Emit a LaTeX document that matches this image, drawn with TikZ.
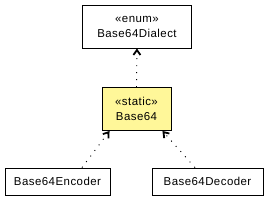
\documentclass[tikz,border=0pt]{standalone}
\usepackage{fontspec}
\setmainfont{Liberation Sans}[LetterSpace=4]
\usetikzlibrary{arrows.meta,calc}
\tikzset{
  cls/.style={draw=black, line width=0.9pt, fill=white, inner sep=0pt, align=center, font=\fontsize{11.5}{15}\selectfont},
  dep/.style={line width=0.9pt, dash pattern=on 1pt off 6pt, -{Straight Barb[length=5pt,width=7pt,line width=1.8pt]}}
}
\begin{document}
\begin{tikzpicture}[x=1bp,y=-1bp]
\useasboundingbox (0,0) rectangle (273,200);
\node[cls, minimum width=109bp, minimum height=43bp] (dia) at (137,26.5) {«enum»\\Base64Dialect};
\node[cls, fill={rgb,255:red,255;green,247;blue,153}, minimum width=69bp, minimum height=43bp] (b64) at (136.5,109) {«static»\\Base64};
\node[cls, minimum width=105bp, minimum height=27bp] (enc) at (57.5,181.5) {Base64Encoder};
\node[cls, minimum width=111bp, minimum height=27bp] (dec) at (207.5,181.5) {Base64Decoder};
\draw[dep] (b64.north) -- (dia.south);
\draw[dep] ($(enc.north)+(24.5,0)$) -- ($(b64.south west)+(8,0)$);
\draw[dep] ($(dec.north)+(-12.5,0)$) -- ($(b64.south east)+(-9,0)$);
\end{tikzpicture}
\end{document}
